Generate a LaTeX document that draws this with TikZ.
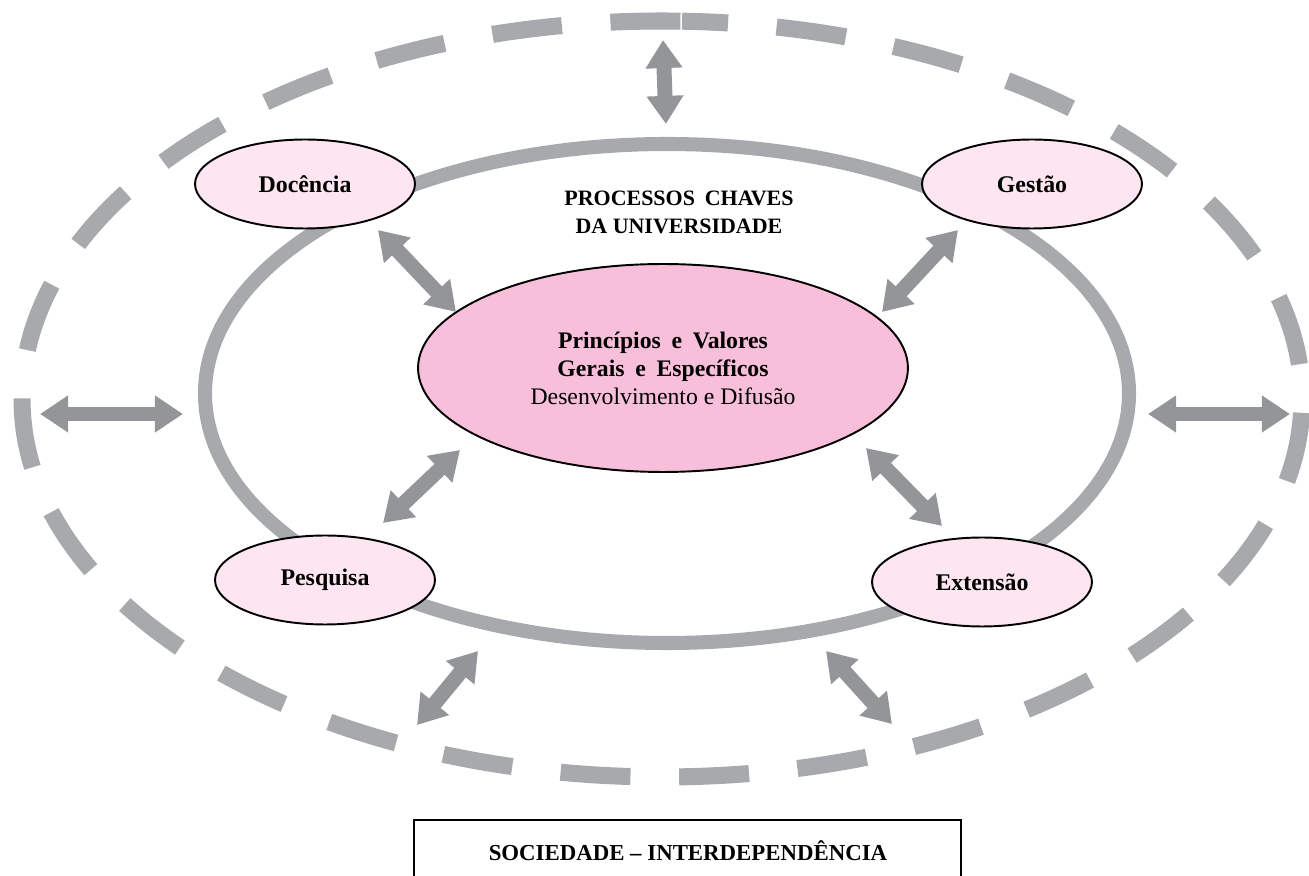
\documentclass[tikz,border=0pt]{standalone}
\usepackage{fontspec}
\setmainfont{Liberation Serif}
\usetikzlibrary{arrows.meta,shapes.geometric}
\definecolor{ringgray}{HTML}{A7A9AC}
\definecolor{arrgray}{HTML}{939598}
\definecolor{pinkmain}{HTML}{F7BFD9}
\definecolor{pinklight}{HTML}{FDE6F0}
\newcommand{\wsp}{\hspace{0.45em}}
\begin{document}
\begin{tikzpicture}[x=0.02cm,y=0.02cm,
  proc/.style={ellipse, draw=black, line width=1.1pt, fill=pinklight, minimum width=4.4cm, minimum height=1.78cm, inner sep=0pt, font=\bfseries\fontsize{13.6}{16}\selectfont},
  core/.style={ellipse, draw=black, line width=1.1pt, fill=pinkmain, minimum width=9.8cm, minimum height=4.16cm, inner sep=0pt, align=center, font=\fontsize{13.5}{16}\selectfont},
  dbl/.style={draw=arrgray, line width=8.5pt, {Triangle[length=16pt,width=20pt]}-{Triangle[length=16pt,width=20pt]}},
  ring/.style={draw=ringgray}
]
\useasboundingbox (0,0) rectangle (1309,876);
% outer dashed ring
\draw[ring, line width=9.7pt, dash pattern=on 39.83pt off 27.71pt, dash phase=13.66pt]
  (682.1,854.8) arc[start angle=88.2, end angle=-271.8, x radius=640, y radius=378];
% inner ring
\draw[ring, line width=8pt] (667,482.5) ellipse [x radius=462, y radius=249.5];
% nodes
\node[core] (core) at (663,508) {\textbf{Princípios\wsp e\wsp Valores}\\\textbf{Gerais\wsp e\wsp Específicos}\\Desenvolvimento e Difusão};
\node[proc] (doc) at (305,692) {Docência};
\node[proc] (ges) at (1032,692) {Gestão};
\node[proc] (pes) at (325,296) {Pesquisa};
\node[proc] (ext) at (982,294) {Extensão};
\node[font=\bfseries\fontsize{12.5}{16}\selectfont, align=center] (title) at (679,664) {PROCESSOS\wsp CHAVES\\DA UNIVERSIDADE};
% society box
\begin{scope}
\clip (0,0) rectangle (1309,876);
\draw[line width=1.2pt] (414,56) rectangle (961,-30);
\end{scope}
\node[font=\bfseries\fontsize{13}{15}\selectfont] (soc) at (688,25) {SOCIEDADE – INTERDEPENDÊNCIA};
% arrow end points
\coordinate (t1) at (663,836); \coordinate (t2) at (666,752);
\coordinate (l1) at (40,462);  \coordinate (l2) at (183,462);
\coordinate (r1) at (1148,462); \coordinate (r2) at (1290,462);
\coordinate (d1) at (378,646); \coordinate (d2) at (456,564);
\coordinate (g1) at (958,646); \coordinate (g2) at (882,564);
\coordinate (p1) at (460,426); \coordinate (p2) at (383,353);
\coordinate (e1) at (866,428); \coordinate (e2) at (942,350);
\coordinate (bl1) at (478,225); \coordinate (bl2) at (417,151);
\coordinate (br1) at (826,225); \coordinate (br2) at (892,152);
\draw[dbl] (t1) -- (t2);
\draw[dbl] (l1) -- (l2);
\draw[dbl] (r1) -- (r2);
\draw[dbl] (d1) -- (d2);
\draw[dbl] (g1) -- (g2);
\draw[dbl] (p1) -- (p2);
\draw[dbl] (e1) -- (e2);
\draw[dbl] (bl1) -- (bl2);
\draw[dbl] (br1) -- (br2);
\end{tikzpicture}
\end{document}
